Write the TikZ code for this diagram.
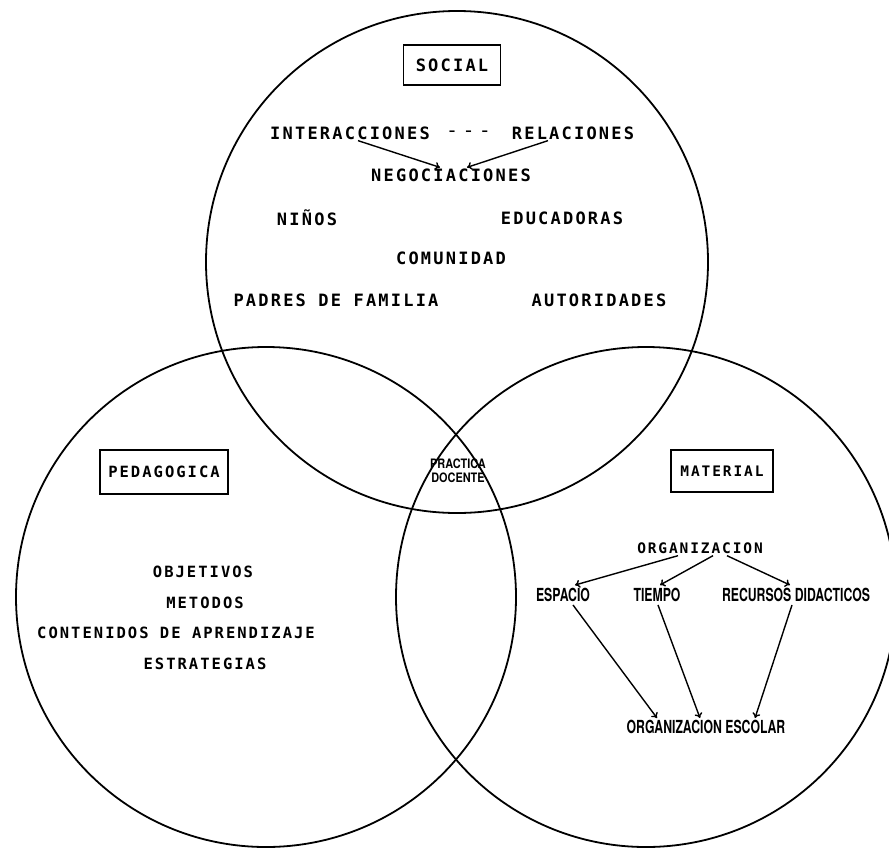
\documentclass[tikz,border=0pt]{standalone}
\usepackage{fontspec}
\usetikzlibrary{arrows.meta}
\newfontfamily\tw[LetterSpace=13]{DejaVu Sans Mono}
\newfontfamily\hv{TeX Gyre Heros}
\newcommand\cnd[1]{\scalebox{0.68}[1]{#1}}
\newcommand\cndp[1]{\scalebox{0.84}[1]{#1}}
\begin{document}
\begin{tikzpicture}[x=1pt,y=-1pt,
  circ/.style={line width=1.8pt},
  lbl/.style={font=\tw\bfseries\fontsize{17}{17}\selectfont, inner sep=0pt},
  lbls/.style={font=\tw\bfseries\fontsize{15.5}{15.5}\selectfont, inner sep=0pt},
  lblm/.style={font=\tw\bfseries\fontsize{14.5}{14.5}\selectfont, inner sep=0pt},
  cond/.style={font=\hv\bfseries\fontsize{18}{18}\selectfont, inner sep=0pt},
  boxlbl/.style={draw, line width=1.4pt, inner sep=0pt},
  arr/.style={line width=1.4pt, -{To[length=5pt,width=8pt]}}]
\useasboundingbox (0,0) rectangle (889,852);
\fill[white] (0,0) rectangle (889,852);
\begin{scope}
\clip (0,0) rectangle (889,852);
\draw[circ] (457,262) circle[radius=251];
\draw[circ] (266,597) circle[radius=250];
\draw[circ] (646,597) circle[radius=250];
\end{scope}

% SOCIAL
\node[boxlbl, lbl, minimum width=97pt, minimum height=40pt] (social) at (452,65) {SOCIAL};
\node[lbl] (inter) at (350,133) {INTERACCIONES};
\node[font=\bfseries\fontsize{17}{17}\selectfont, inner sep=0pt] (dash) at (469,133) {-\hspace{10pt}-\hspace{10pt}-};
\node[lbl] (rel) at (573,133) {RELACIONES};
\node[lbl] (neg) at (451,175) {NEGOCIACIONES};
\node[lbl] (ninos) at (307,218) {NIÑOS};
\node[lbl] (educ) at (562,218) {EDUCADORAS};
\node[lbl] (comu) at (451,258) {COMUNIDAD};
\node[lbl] (padres) at (336,300) {PADRES DE FAMILIA};
\node[lbl] (auto) at (599,300) {AUTORIDADES};
\draw[arr] ([xshift=8pt,yshift=-1pt]inter.south) -- ([xshift=-11pt,yshift=1pt]neg.north);
\draw[arr] ([xshift=-25pt,yshift=-1pt]rel.south) -- ([xshift=16pt,yshift=1pt]neg.north);

% PEDAGOGICA
\node[boxlbl, lbls, minimum width=128pt, minimum height=44pt] (ped) at (164,472) {PEDAGOGICA};
\node[lbls] (obj) at (203,572) {OBJETIVOS};
\node[lbls] (met) at (205,603) {METODOS};
\node[lbls] (cont) at (176,633) {CONTENIDOS DE APRENDIZAJE};
\node[lbls] (estr) at (205,664) {ESTRATEGIAS};

% MATERIAL
\node[boxlbl, lblm, minimum width=102pt, minimum height=42pt] (mat) at (722,471) {MATERIAL};
\node[lblm] (org) at (700,548) {ORGANIZACION};
\node[cond] (esp) at (563,595) {\cnd{ESPACIO}};
\node[cond] (tie) at (657,595) {\cnd{TIEMPO}};
\node[cond] (rec) at (796,595) {\cnd{RECURSOS DIDACTICOS}};
\node[cond] (esc) at (706,727) {\cnd{ORGANIZACION ESCOLAR}};
\draw[arr] ([xshift=-22pt,yshift=-2pt]org.south) -- ([xshift=12pt,yshift=3pt]esp.north);
\draw[arr] ([xshift=13pt,yshift=-2pt]org.south) -- ([xshift=3pt,yshift=3pt]tie.north);
\draw[arr] ([xshift=27pt,yshift=-2pt]org.south) -- ([xshift=-6pt,yshift=3pt]rec.north);
\draw[arr] ([xshift=10pt,yshift=-3pt]esp.south) -- ([xshift=-49pt,yshift=2pt]esc.north);
\draw[arr] ([xshift=1pt,yshift=-3pt]tie.south) -- ([xshift=-6pt,yshift=2pt]esc.north);
\draw[arr] ([xshift=-4pt,yshift=-3pt]rec.south) -- ([xshift=49pt,yshift=2pt]esc.north);

% centre
\node[font=\hv\bfseries\fontsize{13}{13}\selectfont, inner sep=0pt, align=center] (pd) at (458,471) {\cndp{PRACTICA}\\[1.5pt]\cndp{DOCENTE}};
\end{tikzpicture}
\end{document}
